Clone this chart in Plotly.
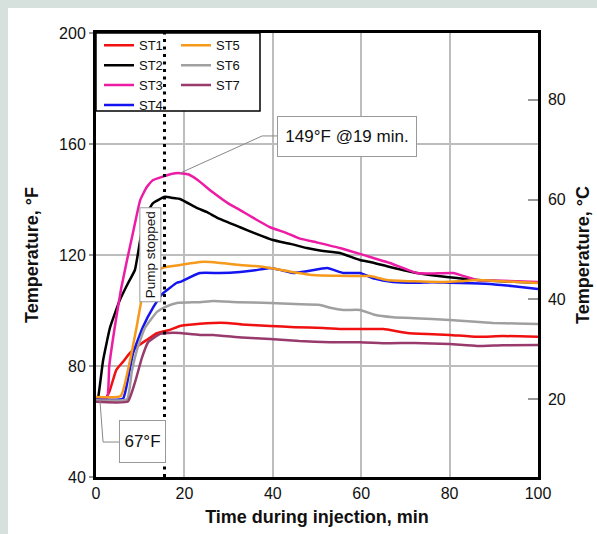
import plotly.graph_objects as go

# ---------------- data (time in min, temperature in °F) ----------------
st1_t = [0, 2, 3, 4.6, 6.1, 7.7, 9.5, 11.5, 13.8, 16.7, 19, 23.5, 26.5, 29.6, 33, 39.4, 45, 51.4, 56, 59.7, 65, 70.4, 75, 80, 86.2, 92, 100]
st1_f = [67.4, 68, 70.6, 78.6, 81.5, 84.7, 87.2, 89.4, 91.8, 93, 94.4, 95.2, 95.5, 95.5, 95, 94.4, 94, 93.7, 93.3, 93.3, 93.3, 91.9, 91.5, 91.2, 90.5, 90.8, 90.5]

st2_t = [0, 0.5, 1.6, 3.2, 5.4, 7.3, 8.8, 10, 11.1, 12.9, 15.6, 17.5, 19, 22.8, 25, 28, 32.6, 36, 40, 44, 47.7, 51, 55.2, 59.7, 62, 66.5, 72.6, 77, 81.7, 86.2, 92, 100]
st2_f = [67, 68.8, 82, 94, 103.8, 110, 114.6, 125.4, 133.7, 138.7, 141, 140.5, 140.2, 137, 135.5, 133, 130, 127.8, 125.4, 124, 122.5, 121.5, 120.7, 118.2, 117.5, 115.7, 113.5, 112.5, 111.7, 111, 110.5, 110]

st3_t = [0, 2.5, 3, 4.5, 5.7, 7, 8.5, 10, 11.5, 12.9, 15.2, 17, 19, 21, 23, 26.5, 30, 32.6, 36, 39.4, 43, 46, 50, 55.2, 59.7, 62, 66.5, 72.6, 76, 80.8, 86.2, 92, 100]
st3_f = [68, 68.5, 80, 96.6, 108, 118, 129, 139.8, 144.5, 147, 148.3, 149.2, 149.5, 149, 147, 142.5, 138.5, 136.2, 133, 130, 128, 126, 124.5, 122.5, 120.4, 119.3, 117.1, 113.5, 113.3, 113.5, 111, 110.7, 110.3]

st4_t = [0, 6.1, 7.3, 8.4, 10.6, 12.9, 15, 18.3, 19, 23.5, 28, 32.6, 36, 39.4, 42, 44.6, 48, 52.3, 56, 59.7, 63, 67.2, 72, 76, 80, 85, 89.8, 93, 96, 100]
st4_f = [68, 68.2, 76, 84.7, 94, 101, 106, 110, 110.3, 113.5, 113.5, 113.9, 114.5, 115.3, 114.5, 113.5, 114.2, 115.3, 113.5, 113.5, 111.5, 110.3, 110, 110.2, 110, 109.8, 109.5, 109, 108.5, 107.7]

st5_t = [0, 5.6, 7.7, 9.3, 10.6, 12.7, 15.2, 19, 23.5, 25.8, 29, 32.6, 36, 39.4, 44, 49, 55, 59.7, 62, 65.8, 72, 78.5, 82, 86.2, 92, 100]
st5_f = [68.8, 69.2, 82, 95, 106, 112.8, 115.5, 116.4, 117.5, 117.5, 117, 116.4, 116, 115.3, 114, 112.8, 112.5, 112.4, 112.4, 111, 110.5, 110.3, 110.5, 111, 110.5, 109.9]

st6_t = [0, 7, 8.1, 9.3, 11, 13.8, 16, 18.3, 23.5, 26.5, 32, 39.4, 45, 50.7, 53, 56, 59.7, 63, 67.2, 72, 80, 85, 89.8, 95, 100]
st6_f = [67.7, 68, 78, 86, 93.5, 99.5, 101.5, 102.7, 103, 103.4, 103, 102.7, 102.3, 102, 101, 100.2, 100.2, 98.5, 97.6, 97.2, 96.6, 96, 95.5, 95.3, 95.1]

st7_t = [0, 7.2, 8.8, 10.4, 11.8, 14.5, 17.4, 19, 23.5, 26.5, 33, 39.4, 46, 53, 59.7, 66, 72, 80, 86.2, 92, 100]
st7_f = [67.1, 67.2, 74, 83, 88.6, 91.6, 92, 91.9, 91.2, 91.2, 90.3, 89.7, 89, 88.6, 88.6, 88.2, 88.3, 87.9, 87.2, 87.5, 87.6]

names = ["ST1", "ST2", "ST3", "ST4", "ST5", "ST6", "ST7"]
colors = ["#f01010", "#000000", "#ec1ca4", "#1414f0", "#f59a1a", "#a0a0a0", "#983a6c"]
series_t = [st1_t, st2_t, st3_t, st4_t, st5_t, st6_t, st7_t]
series_f = [st1_f, st2_f, st3_f, st4_f, st5_f, st6_f, st7_f]

x_ticks = [0, 20, 40, 60, 80, 100]
yf_ticks = [40, 80, 120, 160, 200]
yc_ticks = [20, 40, 60, 80]
pump_stop_t = 15.5

FONT = "Liberation Sans, Arial, sans-serif"

fig = go.Figure()
for i, (n, c, t, f) in enumerate(zip(names, colors, series_t, series_f)):
    fig.add_trace(go.Scatter(
        x=t, y=f, mode="lines", name=n,
        line=dict(color=c, width=2.5, shape="spline", smoothing=0.4),
        legend="legend" if i < 4 else "legend2",
        showlegend=True,
    ))

# dummy trace to activate right axis (°C)
fig.add_trace(go.Scatter(x=[0], y=[20], yaxis="y2", mode="markers",
                         marker=dict(opacity=0), showlegend=False, hoverinfo="skip"))

# background panel
fig.add_shape(type="rect", xref="paper", yref="paper",
              x0=(8 - 96) / 442, x1=(600 - 96) / 442,
              y0=(477 - 540) / 444, y1=(477 - 8) / 444,
              fillcolor="white", line=dict(width=0), layer="below")

# legend box
fig.add_shape(type="rect", xref="paper", yref="paper",
              x0=0, x1=(260 - 96) / 442, y0=(477 - 111) / 444, y1=1,
              line=dict(color="black", width=1.5), fillcolor="white", layer="above")

# pump stopped dotted line
fig.add_shape(type="line", xref="x", yref="y", x0=pump_stop_t, x1=pump_stop_t,
              y0=40, y1=200, line=dict(color="black", width=3, dash="3px,4.5px"),
              layer="above")

# leader lines
fig.add_shape(type="path", xref="x", yref="y",
              path="M 19,149.5 L 37.6,162.9 L 41,162.9",
              line=dict(color="#888888", width=1), layer="above")
fig.add_shape(type="path", xref="x", yref="y",
              path="M 0.9,67.4 L 1.6,52.6 L 5.2,52.6",
              line=dict(color="#888888", width=1), layer="above")

annots = [
    dict(x=56.8, y=162.7, text="149°F @19 min.", font=dict(size=17, family=FONT, color="#111"),
         width=138, height=39, textangle=0),
    dict(x=10.5, y=52.8, text="67°F", font=dict(size=17, family=FONT, color="#111"),
         width=45, height=41, textangle=0),
    dict(x=12.4, y=120.2, text="Pump stopped", font=dict(size=13.5, family=FONT, color="#111"),
         width=93, height=20, textangle=-90),
]
for a in annots:
    fig.add_annotation(xref="x", yref="y", showarrow=False, bgcolor="white",
                       bordercolor="#999999", borderwidth=1, borderpad=0, **a)

fig.update_layout(
    width=597, height=534,
    margin=dict(l=96, r=59, t=33, b=57, autoexpand=False),
    paper_bgcolor="#d6e0dc", plot_bgcolor="white",
    font=dict(family=FONT, size=16, color="#111"),
    xaxis=dict(range=[0, 100], tickvals=x_ticks, showgrid=True, gridcolor="#bdbdbd", gridwidth=1.5,
               showline=True, linecolor="black", linewidth=2.5, mirror=True, ticks="",
               zeroline=False, tickfont=dict(size=16),
               title=dict(text="<b>Time during injection, min</b>", font=dict(size=18), standoff=10)),
    yaxis=dict(range=[40, 200], tickvals=yf_ticks, showgrid=True, gridcolor="#bdbdbd", gridwidth=1.5,
               showline=True, linecolor="black", linewidth=3, ticks="outside", ticklen=4,
               tickcolor="#999999", tickwidth=1.5, zeroline=False, tickfont=dict(size=16),
               title=dict(text="<b>Temperature, °F</b>", font=dict(size=18), standoff=16)),
    yaxis2=dict(range=[(40 - 32) / 1.8, (200 - 32) / 1.8], overlaying="y", side="right",
                tickvals=yc_ticks, showgrid=False, showline=True, linecolor="black", linewidth=2.5,
                ticks="inside", ticklen=10, tickcolor="#999999", tickwidth=2, zeroline=False,
                tickfont=dict(size=16), ticklabelstandoff=4,
                title=dict(text="<b>Temperature, °C</b>", font=dict(size=18), standoff=12)),
    legend=dict(x=(99 - 96) / 442, y=1.006, xanchor="left", yanchor="top",
                bgcolor="rgba(0,0,0,0)", borderwidth=0, font=dict(size=13, family=FONT),
                tracegroupgap=0),
    legend2=dict(x=(176 - 96) / 442, y=1.006, xanchor="left", yanchor="top",
                 bgcolor="rgba(0,0,0,0)", borderwidth=0, font=dict(size=13, family=FONT),
                 tracegroupgap=0),
    showlegend=True,
)

fig.write_html("out.html")
